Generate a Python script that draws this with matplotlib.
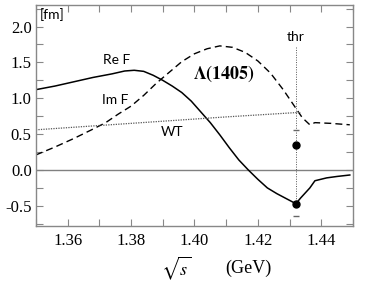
import matplotlib.pyplot as plt
from matplotlib.ticker import MultipleLocator

plt.rcParams['font.family'] = ['Liberation Serif', 'DejaVu Serif']
plt.rcParams['mathtext.fontset'] = 'stix'

# Re F (solid), below and above the K-bar N threshold
re_x = [1.350, 1.356, 1.362, 1.368, 1.374, 1.378, 1.381, 1.384, 1.387, 1.390,
        1.393, 1.396, 1.399, 1.402, 1.405, 1.408, 1.411, 1.414, 1.417, 1.420,
        1.423, 1.426, 1.429, 1.432,
        1.4335, 1.4364, 1.438, 1.4417, 1.445, 1.449]
re_y = [1.12, 1.17, 1.23, 1.29, 1.34, 1.38, 1.39, 1.375, 1.32, 1.25,
        1.17, 1.08, 0.96, 0.81, 0.66, 0.49, 0.31, 0.14, 0.00, -0.13,
        -0.25, -0.33, -0.40, -0.47,
        -0.39, -0.25, -0.15, -0.11, -0.09, -0.07]

# Im F (dashed)
im_x = [1.350, 1.356, 1.362, 1.368, 1.372, 1.376, 1.380, 1.384, 1.388, 1.392,
        1.396, 1.400, 1.404, 1.408, 1.412, 1.416, 1.420, 1.424, 1.428, 1.432,
        1.434, 1.4364, 1.438, 1.443, 1.449]
im_y = [0.21, 0.32, 0.44, 0.57, 0.66, 0.78, 0.89, 1.04, 1.21, 1.36,
        1.51, 1.62, 1.69, 1.73, 1.71, 1.64, 1.52, 1.35, 1.12, 0.86,
        0.73, 0.63, 0.66, 0.65, 0.63]

# WT (dotted)
wt_x = [1.350, 1.370, 1.390, 1.410, 1.432, 1.4335]
wt_y = [0.56, 0.62, 0.68, 0.74, 0.80, 0.80]

thr = 1.4319
dots_y = [0.35, -0.48]
caps_y = [0.56, -0.64]

fig = plt.figure(figsize=(3.82, 2.86), dpi=100)
ax = fig.add_axes([0.094, 0.21, 0.83, 0.7725])

ax.axhline(0, color='#808080', lw=1.0)
ax.plot([thr, thr], [1.71, -0.48], color='#555555', lw=0.7, ls=(0, (1, 1.5)))
ax.plot(re_x, re_y, color='black', lw=1.1)
ax.plot(im_x, im_y, color='black', lw=1.0, ls=(0, (5, 3)))
ax.plot(wt_x, wt_y, color='#555555', lw=0.9, ls=(0, (1, 1)))
ax.plot([thr] * 2, dots_y, 'o', color='black', ms=5)
ax.plot([thr] * 2, caps_y, '_', color='#666666', ms=5, mew=1)

ax.set_xlim(1.35, 1.45)
ax.set_ylim(-0.78, 2.3)
ax.xaxis.set_major_locator(MultipleLocator(0.02))
ax.xaxis.set_minor_locator(MultipleLocator(0.01))
ax.yaxis.set_major_locator(MultipleLocator(0.5))
ax.yaxis.set_minor_locator(MultipleLocator(0.25))
ax.xaxis.set_major_formatter(plt.FuncFormatter(lambda v, p: f'{v:.2f}'))
ax.yaxis.set_major_formatter(plt.FuncFormatter(lambda v, p: f'{v:.1f}'))
ax.tick_params(which='both', direction='in', top=True, right=True,
               color='#888888', width=0.8, length=5, labelsize=12)
ax.tick_params(axis='x', pad=5)
ax.tick_params(axis='y', pad=3)
for s in ax.spines.values():
    s.set_color('#888888')
    s.set_linewidth(1.0)

sans = ['Lato', 'DejaVu Sans']
ax.text(1.3513, 2.17, '[fm]', family=sans, fontsize=10, va='center', ha='left')
ax.text(1.3756, 1.53, 'Re F', family=sans, fontsize=10, va='center', ha='center')
ax.text(1.375, 0.97, 'Im F', family=sans, fontsize=10, va='center', ha='center')
ax.text(1.393, 0.53, 'WT', family=sans, fontsize=10, va='center', ha='center')
ax.text(thr, 1.85, 'thr', family=sans, fontsize=10, va='center', ha='center')
ax.text(1.4093, 1.34, r'$\mathbf{\Lambda(1405)}$', fontsize=13,
        va='center', ha='center')

fig.text(176 / 382, 1 - 268 / 286, r'$\sqrt{s}$', fontsize=13,
         va='center', ha='center')
fig.text(248 / 382, 1 - 268 / 286, '(GeV)', fontsize=13,
         va='center', ha='center')

fig.savefig('out.png', dpi=100)
